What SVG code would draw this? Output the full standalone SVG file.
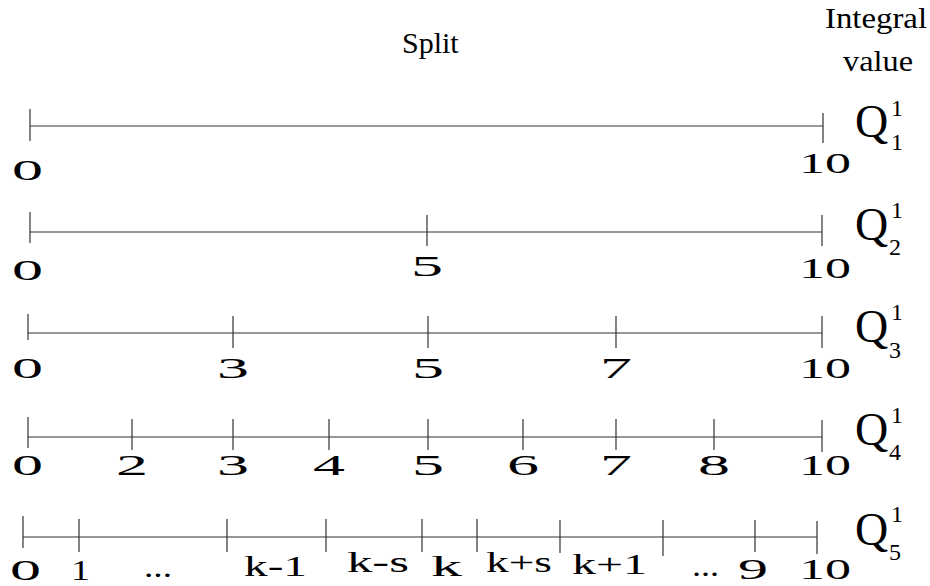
<svg xmlns="http://www.w3.org/2000/svg" width="930" height="586" viewBox="0 0 930 586">
<rect width="930" height="586" fill="#fff"/>
<g id="connectors" stroke="#333" stroke-width="1.2" fill="none">
<path d="M30 126H823M30 109V141M823 113V143"/>
<path d="M30 232H822M30 212V243M427 215V246M822 215V246"/>
<path d="M28 333H822M28 314V340M233 316V348M428 316V348M616 316V348M822 316V348"/>
<path d="M28 437H822M28 417V448M132 419V450M233 419V450M329 419V450M428 419V450M523 419V450M616 419V450M714 419V450M822 420V452"/>
<path d="M23 537H817M23 516V548M79 519V552M227 519V552M326 519V552M422 519V552M477 519V552M560 520V553M663 520V556M755 520V552M817 521V554"/>
</g>
<text id="split" x="402" y="53" font-family="Times New Roman" font-size="30">Split</text>
<text id="integral" x="825" y="28" font-family="Times New Roman" font-size="30" textLength="102" lengthAdjust="spacingAndGlyphs">Integral</text>
<text id="value" x="843" y="71" font-family="Times New Roman" font-size="30" textLength="70" lengthAdjust="spacingAndGlyphs">value</text>
<text x="12" y="180" font-family="Times New Roman" font-size="30" textLength="31" lengthAdjust="spacingAndGlyphs">0</text>
<text x="799" y="173" font-family="Times New Roman" font-size="30" textLength="52" lengthAdjust="spacingAndGlyphs">10</text>
<text x="855" y="137" font-family="Times New Roman" font-size="46">Q</text>
<text x="891" y="116" font-family="Times New Roman" font-size="24">1</text>
<text x="891" y="150" font-family="Times New Roman" font-size="24">1</text>
<text x="12" y="280" font-family="Times New Roman" font-size="30" textLength="31" lengthAdjust="spacingAndGlyphs">0</text>
<text x="411" y="276" font-family="Times New Roman" font-size="30" textLength="32" lengthAdjust="spacingAndGlyphs">5</text>
<text x="799" y="278" font-family="Times New Roman" font-size="30" textLength="52" lengthAdjust="spacingAndGlyphs">10</text>
<text x="855" y="240" font-family="Times New Roman" font-size="46">Q</text>
<text x="891" y="218" font-family="Times New Roman" font-size="24">1</text>
<text x="889" y="255" font-family="Times New Roman" font-size="24">2</text>
<text x="12" y="378" font-family="Times New Roman" font-size="30" textLength="31" lengthAdjust="spacingAndGlyphs">0</text>
<text x="217" y="378" font-family="Times New Roman" font-size="30" textLength="32" lengthAdjust="spacingAndGlyphs">3</text>
<text x="412" y="378" font-family="Times New Roman" font-size="30" textLength="32" lengthAdjust="spacingAndGlyphs">5</text>
<text x="600" y="378" font-family="Times New Roman" font-size="30" textLength="32" lengthAdjust="spacingAndGlyphs">7</text>
<text x="799" y="378" font-family="Times New Roman" font-size="30" textLength="52" lengthAdjust="spacingAndGlyphs">10</text>
<text x="855" y="342" font-family="Times New Roman" font-size="46">Q</text>
<text x="891" y="320" font-family="Times New Roman" font-size="24">1</text>
<text x="889" y="358" font-family="Times New Roman" font-size="24">3</text>
<text x="12" y="475" font-family="Times New Roman" font-size="30" textLength="31" lengthAdjust="spacingAndGlyphs">0</text>
<text x="116" y="475" font-family="Times New Roman" font-size="30" textLength="32" lengthAdjust="spacingAndGlyphs">2</text>
<text x="217" y="475" font-family="Times New Roman" font-size="30" textLength="32" lengthAdjust="spacingAndGlyphs">3</text>
<text x="313" y="475" font-family="Times New Roman" font-size="30" textLength="32" lengthAdjust="spacingAndGlyphs">4</text>
<text x="412" y="475" font-family="Times New Roman" font-size="30" textLength="32" lengthAdjust="spacingAndGlyphs">5</text>
<text x="507" y="475" font-family="Times New Roman" font-size="30" textLength="32" lengthAdjust="spacingAndGlyphs">6</text>
<text x="600" y="475" font-family="Times New Roman" font-size="30" textLength="32" lengthAdjust="spacingAndGlyphs">7</text>
<text x="698" y="475" font-family="Times New Roman" font-size="30" textLength="32" lengthAdjust="spacingAndGlyphs">8</text>
<text x="799" y="475" font-family="Times New Roman" font-size="30" textLength="52" lengthAdjust="spacingAndGlyphs">10</text>
<text x="855" y="445" font-family="Times New Roman" font-size="46">Q</text>
<text x="891" y="423" font-family="Times New Roman" font-size="24">1</text>
<text x="889" y="460" font-family="Times New Roman" font-size="24">4</text>
<text x="10" y="580" font-family="Times New Roman" font-size="30" textLength="31" lengthAdjust="spacingAndGlyphs">0</text>
<text x="71" y="580" font-family="Times New Roman" font-size="30" textLength="19" lengthAdjust="spacingAndGlyphs">1</text>
<text x="144" y="577" font-family="Times New Roman" font-size="30" textLength="28" lengthAdjust="spacingAndGlyphs">...</text>
<text x="244" y="576" font-family="Times New Roman" font-size="30" textLength="63" lengthAdjust="spacingAndGlyphs">k-1</text>
<text x="347" y="572" font-family="Times New Roman" font-size="30" textLength="62" lengthAdjust="spacingAndGlyphs">k-s</text>
<text x="431" y="576" font-family="Times New Roman" font-size="30" textLength="31" lengthAdjust="spacingAndGlyphs">k</text>
<text x="486" y="572" font-family="Times New Roman" font-size="30" textLength="66" lengthAdjust="spacingAndGlyphs">k+s</text>
<text x="572" y="574" font-family="Times New Roman" font-size="30" textLength="75" lengthAdjust="spacingAndGlyphs">k+1</text>
<text x="692" y="576" font-family="Times New Roman" font-size="30" textLength="27" lengthAdjust="spacingAndGlyphs">...</text>
<text x="738" y="579" font-family="Times New Roman" font-size="30" textLength="30" lengthAdjust="spacingAndGlyphs">9</text>
<text x="799" y="579" font-family="Times New Roman" font-size="30" textLength="52" lengthAdjust="spacingAndGlyphs">10</text>
<text x="855" y="545" font-family="Times New Roman" font-size="46">Q</text>
<text x="891" y="522" font-family="Times New Roman" font-size="24">1</text>
<text x="889" y="560" font-family="Times New Roman" font-size="24">5</text>
</svg>
